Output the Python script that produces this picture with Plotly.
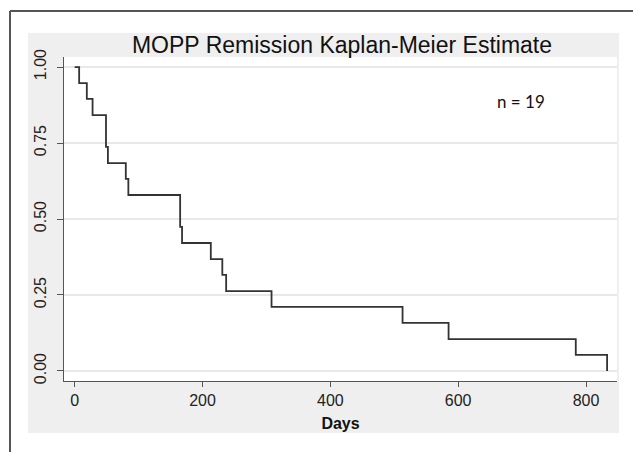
import plotly.graph_objects as go

# Kaplan-Meier step data (days, survival estimate)
days = [0, 7, 19, 28, 49, 52, 80, 84, 165, 168, 213, 231, 237, 308, 513, 585, 784, 833]
survival = [1.000, 0.947, 0.895, 0.842, 0.737, 0.684, 0.632, 0.579, 0.474, 0.421,
            0.368, 0.316, 0.263, 0.211, 0.158, 0.105, 0.053, 0.000]

x_ticks = [0, 200, 400, 600, 800]
y_ticks = [0.00, 0.25, 0.50, 0.75, 1.00]
y_tick_labels = ["0.00", "0.25", "0.50", "0.75", "1.00"]

W, H = 633, 452
L, R, T, B = 64, 16, 57, 71
pw, ph = W - L - R, H - T - B

def px(xp):
    return (xp - L) / pw

def py(yp):
    return (H - B - yp) / ph

fig = go.Figure()
fig.add_trace(go.Scatter(
    x=days, y=survival, mode="lines", line_shape="hv",
    line=dict(color="#333333", width=1.8), showlegend=False, hoverinfo="skip"))

shapes = [
    # grey graph region
    dict(type="rect", xref="paper", yref="paper", x0=px(28), x1=px(619), y0=py(433), y1=py(33),
         fillcolor="#efefef", line=dict(width=0), layer="below"),
    # white plot region
    dict(type="rect", xref="paper", yref="paper", x0=0, x1=1, y0=0, y1=1,
         fillcolor="white", line=dict(width=0), layer="below"),
    # outer border lines
    dict(type="line", xref="paper", yref="paper", x0=px(10), x1=px(10), y0=py(11), y1=py(452),
         line=dict(color="#555555", width=2)),
    dict(type="line", xref="paper", yref="paper", x0=px(10), x1=px(633), y0=py(11), y1=py(11),
         line=dict(color="#555555", width=2)),
]

fig.update_layout(
    width=W, height=H,
    margin=dict(l=L, r=R, t=T, b=B, autoexpand=False),
    paper_bgcolor="white", plot_bgcolor="white",
    shapes=shapes,
    title=dict(text="MOPP Remission Kaplan-Meier Estimate", x=342 / W, xref="container",
               xanchor="center", y=1 - 45 / H, yanchor="middle", yref="container",
               automargin=False,
               font=dict(family="Liberation Sans, Arial", size=23, color="#111111")),
    xaxis=dict(range=[-16.7, 848.5], tickvals=x_ticks, showgrid=False, zeroline=False,
               showline=True, linecolor="#555555", linewidth=1.2, automargin=False,
               ticks="outside", ticklen=5, tickcolor="#555555",
               tickfont=dict(family="Liberation Sans, Arial", size=16, color="#222222"),
               title=dict(text="<b>Days</b>", standoff=9,
                          font=dict(family="Liberation Sans, Arial", size=16, color="#111111"))),
    yaxis=dict(range=[-0.033, 1.033], tickvals=y_ticks, ticktext=y_tick_labels,
               showgrid=True, gridcolor="#e8e8e8", gridwidth=1.5, zeroline=False,
               showline=True, linecolor="#555555", linewidth=1.2, automargin=False,
               ticks="outside", ticklen=6, tickcolor="#555555", tickangle=-90,
               ticklabelstandoff=5,
               tickfont=dict(family="Liberation Sans, Arial", size=16, color="#222222")),
    annotations=[dict(text="n = 19", xref="paper", yref="paper", x=px(521), y=py(101),
                      xanchor="center", yanchor="middle", showarrow=False,
                      font=dict(family="Lato, Open Sans", size=17, color="#111111"))],
)

fig.write_html("out.html", config={"displayModeBar": False},
               post_script="document.body.style.margin='0';")
